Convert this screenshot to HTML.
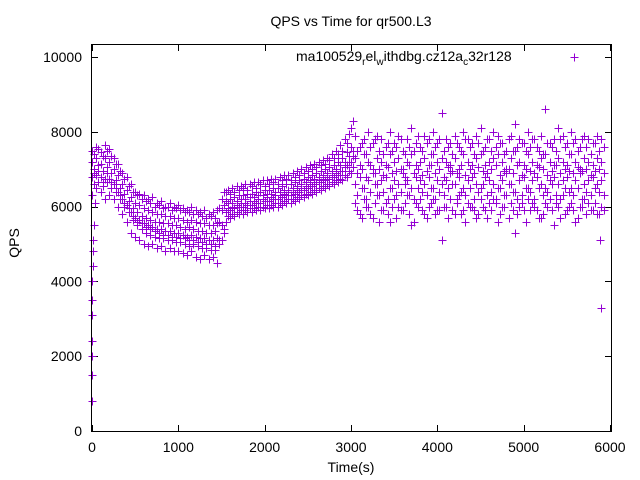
<!DOCTYPE html>
<html><head><meta charset="utf-8"><style>
html,body{margin:0;padding:0;background:#fff;}
svg{display:block;font-family:"Liberation Sans",sans-serif;}
</style></head><body>
<svg id="chart" width="640" height="480" viewBox="0 0 640 480">
<rect width="640" height="480" fill="#fff"/>
<text x="351" y="26" font-size="14" text-anchor="middle">QPS vs Time for qr500.L3</text>
<text transform="translate(19,243) rotate(-90)" font-size="14" text-anchor="middle">QPS</text>
<text x="351" y="472" font-size="14" text-anchor="middle">Time(s)</text>
<g id="ticks"></g>
<g id="points"></g>
<rect x="91.5" y="44.5" width="520" height="387" fill="none" stroke="#000" stroke-width="1"/>
<g>
<text x="296" y="61" font-size="14">ma100529<tspan font-size="10" dy="4">r</tspan><tspan dy="-4">el</tspan><tspan font-size="10" dy="4">w</tspan><tspan dy="-4">ithdbg.cz12a</tspan><tspan font-size="10" dy="4">c</tspan><tspan dy="-4">32r128</tspan></text>
<path d="M570.5 57.5h8M574.5 53.5v8" stroke="#9400d3" stroke-width="1"/>
</g>
</svg>
<script>
const xTicks=[0,1000,2000,3000,4000,5000,6000];
const yTicks=[0,2000,4000,6000,8000,10000];
const times=[];for(let i=0;i<=118;i++)times.push(i*50);
const times2=[];for(let i=0;i<=118;i++)times2.push(i*50+25);
const seriesA=[7500,7600,7450,7650,7550,7300,7150,6900,6800,6600,
6400,6350,6300,6200,6250,6100,6150,6000,6100,6000,
6050,5950,5900,6000,5900,5850,5900,5800,5850,5900,
6200,6400,6350,6400,6450,6500,6450,6550,6500,6600,
6550,6600,6650,6600,6700,6750,6700,6800,6850,6900,
6950,7000,7050,7100,7150,7250,7300,7400,7500,7700,8100,
7900,7600,7800,8000,7700,7900,7800,7600,8000,7700,
7900,7500,7800,8100,7700,7600,7900,7800,8000,7700,
8500,7800,7700,7900,7600,8000,7800,7700,7900,8100,
7600,7800,8000,7900,7700,7500,7900,8200,7800,7700,
8000,7800,7600,7900,8600,7700,7800,8100,7900,7700,
8000,7800,7600,7900,7800,7700,7900,7800];
const seriesB=[7200,7300,7150,7300,7200,7000,6850,6600,6450,6250,
6100,6050,5950,5900,5850,5800,5800,5750,5750,5700,
5700,5650,5600,5650,5600,5550,5550,5500,5500,5550,
5900,6150,6200,6250,6300,6300,6350,6350,6400,6400,
6450,6450,6500,6500,6550,6600,6600,6650,6700,6750,
6800,6850,6900,6950,7000,7050,7100,7200,7300,7450,7600,
7300,7100,7400,7200,7000,7300,7200,7100,7400,7200,
7300,7000,7200,7400,7100,7200,7300,7100,7400,7200,
7300,7200,7100,7300,7000,7400,7200,7100,7300,7400,
7100,7200,7300,7400,7200,7000,7300,7500,7200,7100,
7400,7200,7100,7300,7400,7200,7100,7300,7200,7100,
7400,7200,7000,7300,7200,7100,7300,7200];
const seriesC=[6800,6850,6800,6750,6750,6600,6400,6200,6050,5850,
5700,5650,5550,5500,5450,5400,5400,5350,5350,5300,
5300,5250,5200,5250,5200,5150,5150,5100,5100,5150,
5500,5850,5900,5950,6000,6000,6050,6050,6100,6100,
6150,6150,6200,6200,6250,6300,6300,6350,6400,6450,
6500,6550,6600,6650,6700,6750,6800,6850,6950,7100,7200,
6600,6800,6500,6700,6900,6600,6700,6800,6500,6700,
6600,6900,6700,6500,6800,6700,6600,6800,6500,6700,
6600,6700,6900,6600,6800,6500,6700,6800,6600,6500,
6800,6700,6600,6500,6700,6900,6600,6400,6700,6800,
6500,6700,6800,6600,6500,6700,6800,6600,6700,6800,
6500,6700,6900,6600,6700,6800,6600,6700];
const seriesD=[6300,6500,6400,6200,6300,6200,6000,5800,5600,5300,
5200,5100,5000,4950,5000,4900,4950,4800,4900,4800,
4800,4750,4700,4800,4650,4600,4700,4600,4650,4500,
5100,5600,5700,5750,5800,5800,5850,5850,5900,5900,
5950,5950,6000,6000,6050,6100,6100,6150,6200,6250,
6300,6350,6400,6450,6500,6550,6600,6650,6700,6800,6900,
6100,5800,6200,6000,5700,6300,5900,6100,5600,6200,
6000,5900,6300,5500,6100,6200,5800,6000,6200,5900,
5100,6000,6200,5800,6300,5900,6100,6000,5700,6200,
5900,6100,6200,5600,6000,6300,6100,5300,6000,5900,
6200,6100,5900,5700,6100,6200,5500,6000,6300,5900,
6100,5600,6000,6200,6100,5900,5800,6000];
const seriesE=[7400,7550,7350,7500,7350,7150,6950,6750,6550,6400,
6300,6200,6150,6100,6000,6050,5950,6000,5900,5950,
5900,5850,5850,5800,5800,5750,5700,5750,5700,5950,
6400,6450,6500,6550,6550,6600,6600,6650,6650,6700,
6700,6750,6750,6800,6850,6850,6900,6950,7000,7050,
7100,7150,7200,7250,7300,7400,7500,7650,7800,7950,8300,
7500,7700,7400,7600,7800,7500,7400,7700,7500,7600,
7800,7400,7600,7500,7900,7500,7700,7400,7600,7800,
7500,7600,7400,7700,7500,7800,7600,7400,7700,7500,
7800,7500,7600,7700,7400,7800,7500,7600,7700,7500,
7600,7800,7500,7400,7700,7600,7500,7800,7600,7400,
7700,7500,7800,7600,7400,7700,7500,7600];
const seriesF=[7000,7100,6950,7050,6900,6700,6500,6350,6150,5950,
5850,5750,5700,5650,5600,5600,5550,5550,5500,5500,
5450,5400,5450,5400,5350,5350,5300,5300,5350,5600,
6050,6100,6100,6150,6200,6200,6250,6250,6300,6300,
6350,6350,6400,6400,6450,6450,6500,6550,6600,6650,
6700,6750,6800,6850,6900,6950,7000,7100,7200,7350,7500,
6900,7000,6800,7100,6900,7000,6850,7050,6900,6950,
7000,6800,7100,6900,7000,6850,6950,7100,6900,7000,
6800,7050,6950,6900,7100,6850,7000,6900,7050,6950,
6900,7000,7100,6850,6950,7000,6900,7100,6850,7000,
6950,6900,7050,7000,6850,6950,7100,6900,7000,6950,
6900,7050,6950,7000,6850,6950,7000,6900];
const seriesG=[6600,6650,6550,6650,6500,6400,6200,6000,5850,5650,
5500,5400,5300,5250,5200,5150,5150,5100,5100,5050,
5050,5000,4950,5000,4950,4900,4900,4850,4850,5000,
5300,5750,5800,5850,5900,5900,5950,5950,6000,6000,
6050,6050,6100,6100,6150,6200,6200,6250,6300,6350,
6400,6450,6500,6550,6600,6650,6700,6750,6850,6950,7050,
6300,6500,6200,6400,6600,6300,6400,6200,6500,6300,
6400,6600,6300,6200,6500,6400,6300,6500,6200,6400,
6300,6500,6600,6200,6400,6300,6500,6200,6400,6600,
6300,6400,6200,6500,6300,6600,6400,6200,6300,6500,
6400,6200,6500,6300,6400,6600,6300,6200,6500,6400,
6300,6500,6200,6400,6300,6500,6400,6300];
const seriesH=[6900,6950,6650,6900,6650,6500,6300,6100,5950,5750,
5600,5550,5450,5400,5350,5300,5250,5250,5200,5200,
5150,5150,5100,5100,5050,5050,5000,5000,4950,5100,
5400,5950,6000,6050,6100,6100,6150,6150,6200,6200,
6250,6250,6300,6300,6350,6400,6400,6450,6500,6550,
6600,6650,6700,6750,6800,6850,6900,6950,7050,7200,7350,
5900,5700,6000,5800,6100,5600,5900,5800,6000,5700,
5900,6100,5800,5600,6000,5900,5700,6100,5800,5900,
6000,5700,5900,6100,5800,5600,6000,5900,5800,6000,
5700,5900,6100,5800,6000,5700,5900,5800,6100,5600,
5900,6000,5700,5800,6000,5900,6100,5700,5800,6000,
5900,5700,6000,5800,5900,6100,5800,5900];
const extraT=[0,0,0,0,0,5,5,10,10,15,20,30,5880,5900];
const extraV=[800,1500,2000,2400,3100,3500,4000,4400,4800,5100,5500,6100,5100,3300];

const X0=92,X1=610,Y0=431,Y1=57;
function sx(t){return X0+t/6000*(X1-X0);}
function sy(v){return Y0-v/10000*(Y0-Y1);}
const NS='http://www.w3.org/2000/svg';
const tg=document.getElementById('ticks');
xTicks.forEach(t=>{
  const x=Math.round(sx(t))+0.5;
  const p=document.createElementNS(NS,'path');
  p.setAttribute('d',`M${x} 431v-6M${x} 45v6`);
  p.setAttribute('stroke','#000');
  
  
  tg.appendChild(p);
  const l=document.createElementNS(NS,'text');
  l.setAttribute('x',sx(t));l.setAttribute('y',452);
  l.setAttribute('font-size','14');l.setAttribute('text-anchor','middle');
  l.textContent=t;
  
  
  tg.appendChild(l);
});
yTicks.forEach(v=>{
  const y=Math.round(sy(v))+0.5;
  const p=document.createElementNS(NS,'path');
  p.setAttribute('d',`M92 ${y}h6M611 ${y}h-6`);
  p.setAttribute('stroke','#000');
  
  
  tg.appendChild(p);
  const l=document.createElementNS(NS,'text');
  l.setAttribute('x',82);l.setAttribute('y',sy(v)+5);
  l.setAttribute('font-size','14');l.setAttribute('text-anchor','end');
  l.textContent=v;
  
  
  tg.appendChild(l);
});
const pg=document.getElementById('points');
let d='';
function add(t,v){const x=Math.round(sx(t))+0.5,y=Math.round(sy(v))+0.5;d+=`M${x-4} ${y}h8M${x} ${y-4}v8`;}
[seriesA,seriesB,seriesC,seriesD].forEach(s=>s.forEach((v,i)=>add(times[i],v)));
[seriesE,seriesF,seriesG,seriesH].forEach(s=>s.forEach((v,i)=>add(times2[i],v)));
extraV.forEach((v,i)=>add(extraT[i],v));
const path=document.createElementNS(NS,'path');
path.setAttribute('d',d);
path.setAttribute('stroke','#9400d3');
path.setAttribute('stroke-width','1');
path.setAttribute('fill','none');


pg.appendChild(path);
</script>
</body></html>
